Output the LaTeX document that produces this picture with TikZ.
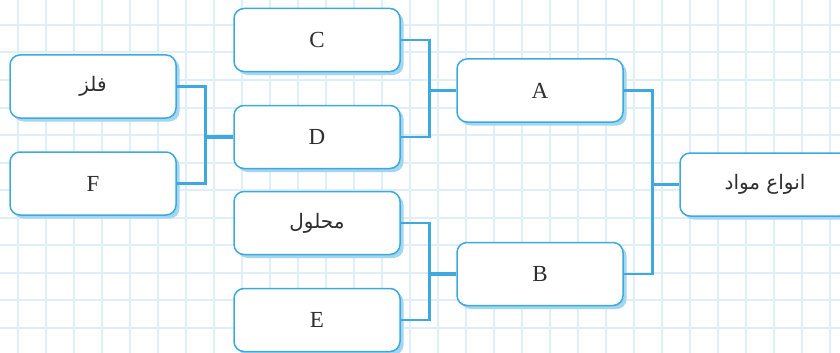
\documentclass[tikz,border=0pt]{standalone}
\usepackage{fontspec}
\setmainfont{Liberation Serif}
\newfontfamily\arabicfont[Script=Arabic]{DejaVu Sans}
\TeXXeTstate=1
\usetikzlibrary{shadows}
\definecolor{gridc}{HTML}{E0EEF8}
\definecolor{boxc}{HTML}{3DA9DE}
\definecolor{shadc}{HTML}{A3D6F0}
\definecolor{txtc}{HTML}{2E2E2E}
\tikzset{
  box/.style={draw=boxc, line width=1.5pt, rounded corners=10pt, fill=white,
    minimum width=166pt, minimum height=63pt, inner sep=0pt, text=txtc,
    font=\fontsize{23}{26}\selectfont,
    drop shadow={shadow xshift=3.5pt, shadow yshift=-3.5pt, fill=shadc, opacity=1}},
  fa/.style={font=\arabicfont\fontsize{20}{24}\selectfont},
  conn/.style={draw=boxc, line width=2.8pt, line join=miter},
  stub/.style={draw=boxc, line width=3.8pt}
}
\begin{document}
\begin{tikzpicture}[x=1pt,y=-1pt]
\useasboundingbox (0,0) rectangle (840,353);
\begin{scope}
\clip (0,0) rectangle (840,353);
\foreach \i in {0,...,29} \draw[gridc, line width=2pt] (18+28*\i,0) -- (18+28*\i,353);
\foreach \j in {0,...,13} \draw[gridc, line width=2pt] (0,-2.5+27.5*\j) -- (840,-2.5+27.5*\j);

\node[box, fa] (falaz) at (93,86.5) {\beginR فلز\endR};
\node[box] (F) at (93,183.5) {F};
\node[box] (C) at (317,40) {C};
\node[box] (D) at (317,137) {D};
\node[box, fa] (mahlul) at (317,223) {\beginR محلول\endR};
\node[box] (E) at (317,320) {E};
\node[box] (A) at (540,90.5) {A};
\node[box] (B) at (540,274) {B};
\node[box, fa, minimum width=170pt] (root) at (765,184.5) {\beginR انواع مواد\endR};

\draw[conn] (falaz.east) -- ++(29,0) |- (F.east);
\draw[stub] (D.west) -- ++(-29,0);
\draw[conn] (C.east) -- ++(28.5,0) |- (D.east);
\draw[stub] (A.west) -- ++(-28.5,0);
\draw[conn] (mahlul.east) -- ++(28.5,0) |- (E.east);
\draw[stub] (B.west) -- ++(-28.5,0);
\draw[conn] (A.east) -- ++(29,0) |- (B.east);
\draw[stub] (root.west) -- ++(-28,0);
\end{scope}
\end{tikzpicture}
\end{document}
